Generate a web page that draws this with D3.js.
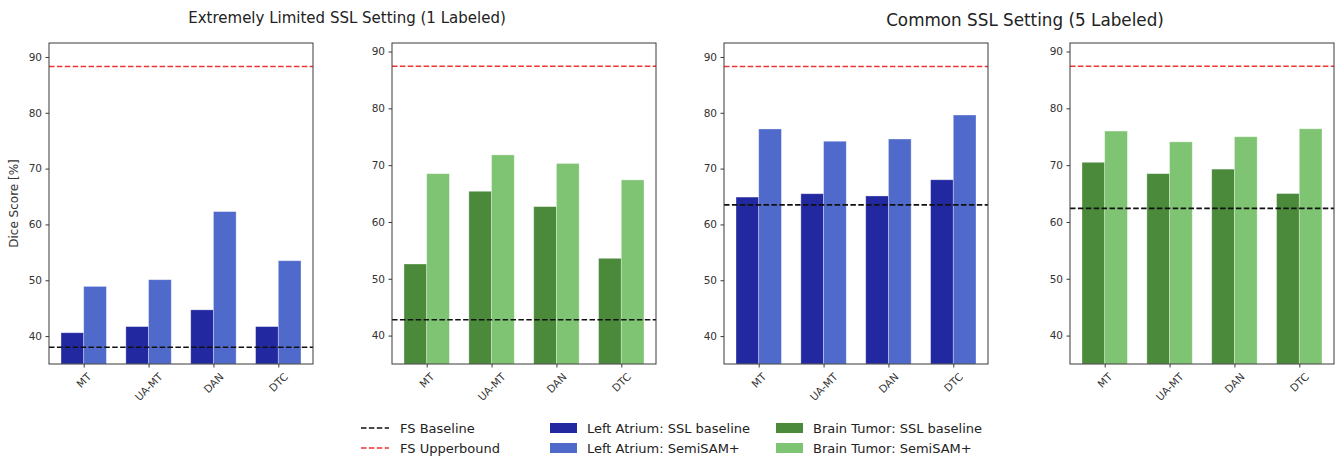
<!DOCTYPE html>
<html>
<head>
<meta charset="utf-8">
<script src="https://cdn.jsdelivr.net/npm/d3@7"></script>
<style>
  html, body { margin: 0; padding: 0; background: #fff; }
  svg { display: block; font-family: "DejaVu Sans", sans-serif; }
</style>
</head>
<body>
<svg id="chart" width="1336" height="458"></svg>
<script>
// ---------- data ----------
const methods = ["MT", "UA-MT", "DAN", "DTC"];
const yTicks = [40, 50, 60, 70, 80, 90];

// Left Atrium, 1 labeled
const la1_ssl = [40.6, 41.7, 44.7, 41.7];
const la1_sam = [48.9, 50.1, 62.3, 53.5];
const la1_fs = 38.0, la1_ub = 88.3;
// Brain Tumor, 1 labeled
const bt1_ssl = [52.6, 65.4, 62.7, 53.6];
const bt1_sam = [68.5, 71.8, 70.3, 67.4];
const bt1_fs = 42.8, bt1_ub = 87.4;
// Left Atrium, 5 labeled
const la5_ssl = [64.9, 65.5, 65.1, 68.0];
const la5_sam = [77.1, 74.9, 75.3, 79.6];
const la5_fs = 63.5, la5_ub = 88.3;
// Brain Tumor, 5 labeled
const bt5_ssl = [70.5, 68.5, 69.3, 65.0];
const bt5_sam = [76.0, 74.1, 75.0, 76.4];
const bt5_fs = 62.4, bt5_ub = 87.4;

const yDomainLA = [35, 92.5];
const yDomainBT = [35, 91.5];

const titles = ["Extremely Limited SSL Setting (1 Labeled)", "Common SSL Setting (5 Labeled)"];
const legendLines = ["FS Baseline", "FS Upperbound"];
const legendPatches = ["Left Atrium: SSL baseline", "Left Atrium: SemiSAM+", "Brain Tumor: SSL baseline", "Brain Tumor: SemiSAM+"];

// ---------- styles ----------
const C = {
  laDark: "#2229a0", laLight: "#4f6acb",
  btDark: "#4a8a3a", btLight: "#7fc472",
  fs: "#111111", ub: "#f03434",
  axis: "#3a3a3a", text: "#333333"
};

const panels = [
  { left: 49,   ssl: la1_ssl, sam: la1_sam, fs: la1_fs, ub: la1_ub, dom: yDomainLA, dark: C.laDark, light: C.laLight, ylabel: true },
  { left: 392,  ssl: bt1_ssl, sam: bt1_sam, fs: bt1_fs, ub: bt1_ub, dom: yDomainBT, dark: C.btDark, light: C.btLight },
  { left: 724,  ssl: la5_ssl, sam: la5_sam, fs: la5_fs, ub: la5_ub, dom: yDomainLA, dark: C.laDark, light: C.laLight },
  { left: 1070, ssl: bt5_ssl, sam: bt5_sam, fs: bt5_fs, ub: bt5_ub, dom: yDomainBT, dark: C.btDark, light: C.btLight }
];
const PW = 264, PT = 43, PB = 364;
const barW = 0.35;

const svg = d3.select("#chart");

panels.forEach(p => {
  const x = d3.scaleLinear().domain([-0.535, 3.535]).range([p.left, p.left + PW]);
  const y = d3.scaleLinear().domain(p.dom).range([PB, PT]);
  const g = svg.append("g");

  const clipId = "clip" + p.left;
  g.append("clipPath").attr("id", clipId).append("rect")
    .attr("x", p.left).attr("y", PT).attr("width", PW).attr("height", PB - PT);
  const plot = g.append("g").attr("clip-path", `url(#${clipId})`);

  // bars
  plot.selectAll("rect.ssl").data(p.ssl).join("rect")
    .attr("x", (d, i) => x(i - barW)).attr("width", x(barW) - x(0))
    .attr("y", d => y(d)).attr("height", d => y(p.dom[0]) - y(d))
    .attr("fill", p.dark).attr("stroke", "#ffffff").attr("stroke-opacity", 0.4).attr("stroke-width", 0.8);
  plot.selectAll("rect.sam").data(p.sam).join("rect")
    .attr("x", (d, i) => x(i)).attr("width", x(barW) - x(0))
    .attr("y", d => y(d)).attr("height", d => y(p.dom[0]) - y(d))
    .attr("fill", p.light).attr("stroke", "#ffffff").attr("stroke-opacity", 0.4).attr("stroke-width", 0.8);

  // reference lines
  [[p.ub, C.ub], [p.fs, C.fs]].forEach(([v, col]) => {
    plot.append("line")
      .attr("x1", p.left).attr("x2", p.left + PW)
      .attr("y1", y(v)).attr("y2", y(v))
      .attr("stroke", col).attr("stroke-width", 1.6).attr("stroke-dasharray", "5.5,2.4");
  });

  // frame
  g.append("rect").attr("x", p.left).attr("y", PT).attr("width", PW).attr("height", PB - PT)
    .attr("fill", "none").attr("stroke", C.axis).attr("stroke-width", 1);

  // y axis
  const ya = g.append("g").attr("transform", `translate(${p.left},0)`)
    .call(d3.axisLeft(y).tickValues(yTicks).tickSize(3.5).tickPadding(3.5).tickFormat(d3.format("d")));
  ya.select(".domain").remove();
  ya.selectAll("line").attr("stroke", C.axis);
  ya.selectAll("text").attr("font-size", 10.5).attr("fill", C.text).attr("font-family", "DejaVu Sans");

  // x axis
  const xa = g.append("g").attr("transform", `translate(0,${PB})`)
    .call(d3.axisBottom(x).tickValues(d3.range(methods.length)).tickSize(3.5).tickFormat(""));
  xa.select(".domain").remove();
  xa.selectAll("line").attr("stroke", C.axis);

  methods.forEach((m, i) => {
    const t = g.append("text").text(m).attr("font-size", 10.5).attr("fill", C.text)
      .attr("text-anchor", "middle").attr("dominant-baseline", "central");
    const w = t.node().getComputedTextLength();
    const h = 10.5;
    const rotH = (w + h) * Math.SQRT1_2;
    const cx = x(i), cy = PB + 3.5 + 3.5 + rotH / 2;
    t.attr("transform", `translate(${cx},${cy}) rotate(-45)`);
  });

  if (p.ylabel) {
    g.append("text").text("Dice Score [%]").attr("font-size", 12).attr("fill", C.text)
      .attr("text-anchor", "middle").attr("dominant-baseline", "central")
      .attr("transform", `translate(14,${(PT + PB) / 2}) rotate(-90)`);
  }
});

// titles
const titleX = [347, 1025];
const titleY = [23, 26];
const titleSize = [15, 16.8];
titles.forEach((t, i) => {
  svg.append("text").text(t).attr("x", titleX[i]).attr("y", titleY[i])
    .attr("text-anchor", "middle").attr("font-size", titleSize[i]).attr("fill", "#222");
});

// legend
const rowY = [428, 448];
const lg = svg.append("g").attr("font-size", 13).attr("fill", "#222");
legendLines.forEach((t, i) => {
  lg.append("line").attr("x1", 361).attr("x2", 389).attr("y1", rowY[i]).attr("y2", rowY[i])
    .attr("stroke", i === 0 ? C.fs : C.ub).attr("stroke-width", 1.6).attr("stroke-dasharray", "5.5,2.4");
  lg.append("text").text(t).attr("x", 400).attr("y", rowY[i]).attr("dominant-baseline", "central");
});
const patchCols = [[C.laDark, C.laLight], [C.btDark, C.btLight]];
const patchX = [550, 776];
legendPatches.forEach((t, k) => {
  const col = Math.floor(k / 2), row = k % 2;
  lg.append("rect").attr("x", patchX[col]).attr("y", rowY[row] - 5).attr("width", 27).attr("height", 10)
    .attr("fill", patchCols[col][row]);
  lg.append("text").text(t).attr("x", patchX[col] + 37).attr("y", rowY[row]).attr("dominant-baseline", "central");
});
</script>
</body>
</html>
